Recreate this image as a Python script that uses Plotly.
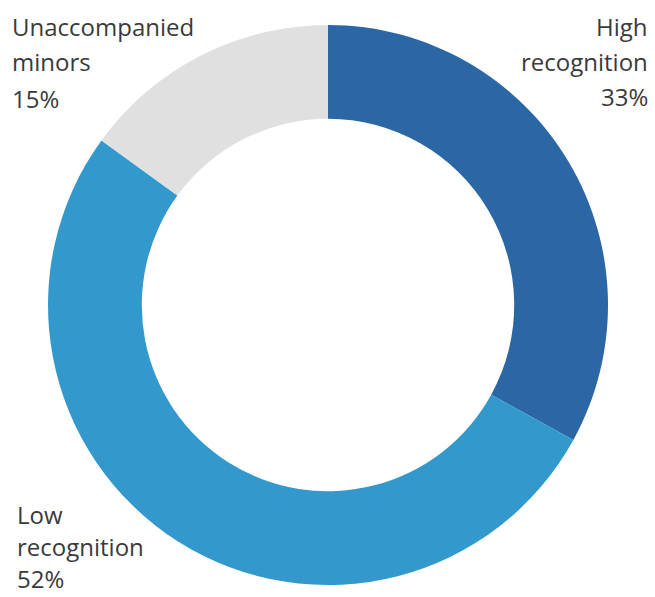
import plotly.graph_objects as go

categories = ["High recognition", "Low recognition", "Unaccompanied minors"]
values = [33, 52, 15]
label_lines = [["High", "recognition", "33%"],
               ["Low", "recognition", "52%"],
               ["Unaccompanied", "minors", "15%"]]
colors = ["#2b66a5", "#3399cc", "#e0e0e0"]

W, H = 655, 597
cx, cy, R = 328, 305, 280

fig = go.Figure(go.Pie(
    labels=categories,
    values=values,
    hole=0.665,
    sort=False,
    direction="clockwise",
    rotation=0,
    marker=dict(colors=colors, line=dict(width=0)),
    textinfo="none",
    hoverinfo="label+percent",
    showlegend=False,
    domain=dict(x=[(cx - R) / W, (cx + R) / W],
                y=[(H - cy - R) / H, (H - cy + R) / H]),
))

font = dict(family="Open Sans, Lato, sans-serif", size=24, color="#3a3a3a")

def add_label(lines, xpx, ypxs, anchor):
    for line, ypx in zip(lines, ypxs):
        fig.add_annotation(text=line, x=xpx / W, y=1 - ypx / H, xref="paper", yref="paper",
                           xanchor=anchor, yanchor="middle", align=anchor,
                           showarrow=False, font=font, borderpad=0)

add_label(label_lines[0], 649, [26, 61, 97], "right")
add_label(label_lines[2], 11, [26, 62, 98], "left")
add_label(label_lines[1], 16, [514, 546, 578], "left")

fig.update_layout(
    width=W, height=H,
    margin=dict(l=0, r=0, t=0, b=0),
    paper_bgcolor="white",
    plot_bgcolor="white",
)

fig.write_html("out.html", config={"displayModeBar": False},
               post_script="document.body.style.margin='0';document.body.style.overflow='hidden';")
